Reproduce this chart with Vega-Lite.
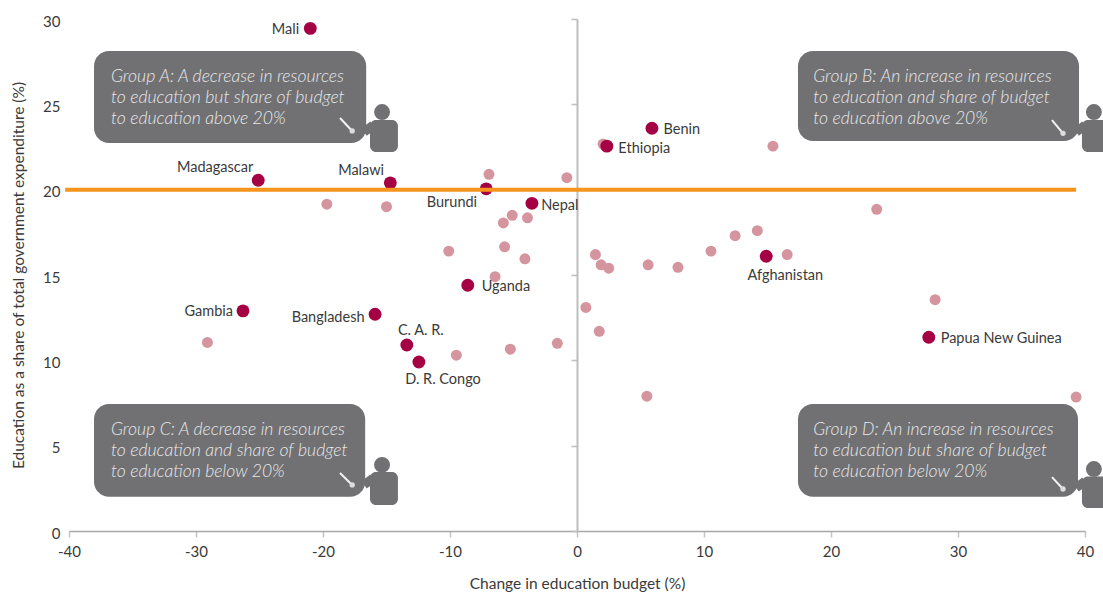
{"$schema":"https://vega.github.io/schema/vega-lite/v6.json","width":1016,"height":512,"autosize":{"type":"none"},"padding":{"left":69,"top":19,"right":18,"bottom":63},"background":"white","config":{"view":{"stroke":null},"text":{"font":"Lato"},"axis":{"labelFont":"Lato","titleFont":"Lato","labelColor":"#3a3a3a","titleColor":"#3a3a3a","labelFontSize":15,"titleFontSize":15.5,"titleFontWeight":"normal","grid":false,"labelFlush":false}},"datasets":{"light":[{"x":2.05,"y":22.67},{"x":15.43,"y":22.55},{"x":-6.93,"y":20.9},{"x":-0.8,"y":20.7},{"x":-19.7,"y":19.15},{"x":-15,"y":19},{"x":-5.1,"y":18.5},{"x":-5.8,"y":18.05},{"x":-3.9,"y":18.35},{"x":-10.1,"y":16.4},{"x":-5.7,"y":16.65},{"x":-4.1,"y":15.95},{"x":-6.45,"y":14.9},{"x":1.45,"y":16.2},{"x":1.9,"y":15.6},{"x":2.5,"y":15.4},{"x":5.6,"y":15.6},{"x":7.95,"y":15.45},{"x":10.55,"y":16.4},{"x":12.45,"y":17.3},{"x":14.2,"y":17.6},{"x":16.55,"y":16.2},{"x":23.6,"y":18.85},{"x":28.2,"y":13.55},{"x":0.7,"y":13.1},{"x":1.75,"y":11.7},{"x":-1.55,"y":11},{"x":-5.25,"y":10.65},{"x":-9.5,"y":10.3},{"x":-29.1,"y":11.05},{"x":5.5,"y":7.9},{"x":39.3,"y":7.85}],"dark":[{"x":-21,"y":29.45,"country":"Mali","lx":-22.95,"ly":29.4},{"x":5.9,"y":23.6,"country":"Benin","lx":8.25,"ly":23.55},{"x":2.35,"y":22.55,"country":"Ethiopia","lx":5.3,"ly":22.45},{"x":-25.1,"y":20.55,"country":"Madagascar","lx":-28.5,"ly":21.3},{"x":-14.7,"y":20.4,"country":"Malawi","lx":-17,"ly":21.15},{"x":-7.15,"y":20.05,"country":"Burundi","lx":-9.85,"ly":19.3},{"x":-3.55,"y":19.2,"country":"Nepal","lx":-1.35,"ly":19.1},{"x":14.9,"y":16.1,"country":"Afghanistan","lx":16.4,"ly":15},{"x":-8.6,"y":14.4,"country":"Uganda","lx":-5.6,"ly":14.35},{"x":-26.3,"y":12.9,"country":"Gambia","lx":-29,"ly":12.88},{"x":-15.9,"y":12.7,"country":"Bangladesh","lx":-19.6,"ly":12.55},{"x":-13.4,"y":10.9,"country":"C. A. R.","lx":-12.3,"ly":11.8},{"x":-12.45,"y":9.9,"country":"D. R. Congo","lx":-10.55,"ly":8.9},{"x":27.7,"y":11.35,"country":"Papua New Guinea","lx":33.4,"ly":11.3}],"bubbles":[{"x":-38.03,"x2":-16.6,"y":22.73,"y2":28.12},{"x":17.4,"x2":39.53,"y":22.85,"y2":28.12},{"x":-38.03,"x2":-16.68,"y":2,"y2":7.44},{"x":17.4,"x2":39.45,"y":2,"y2":7.44}],"bodies":[{"x":-16.3,"x2":-14.1,"y":22.2,"y2":24.08},{"x":39.76,"x2":41.96,"y":22.2,"y2":24.08},{"x":-16.3,"x2":-14.1,"y":1.52,"y2":3.46},{"x":39.76,"x2":41.96,"y":1.35,"y2":3.2}],"heads":[{"x":-15.35,"y":24.55},{"x":40.7,"y":24.55},{"x":-15.35,"y":3.87},{"x":40.7,"y":3.63}],"arms":[{"x":-16.06,"y":23.78,"x2":-16.77,"y2":23.37},{"x":40,"y":23.78,"x2":39.3,"y2":23.37},{"x":-16.06,"y":3.1,"x2":-16.77,"y2":2.7},{"x":40,"y":2.93,"x2":39.3,"y2":2.52}],"pointers":[{"x":-18.66,"y":24.2,"x2":-17.7,"y2":23.44},{"x":37.4,"y":24.08,"x2":38.27,"y2":23.3},{"x":-18.66,"y":3.4,"x2":-17.7,"y2":2.7},{"x":37.4,"y":3.16,"x2":38.27,"y2":2.46}],"notes":[{"x":-36.7,"y":26.65,"t":"Group A: A decrease in resources"},{"x":-36.7,"y":25.42,"t":"to education but share of budget"},{"x":-36.7,"y":24.19,"t":"to education above 20%"},{"x":18.6,"y":26.65,"t":"Group B: An increase in resources"},{"x":18.6,"y":25.42,"t":"to education and share of budget"},{"x":18.6,"y":24.19,"t":"to education above 20%"},{"x":-36.7,"y":5.97,"t":"Group C: A decrease in resources"},{"x":-36.7,"y":4.74,"t":"to education and share of budget"},{"x":-36.7,"y":3.51,"t":"to education below 20%"},{"x":18.6,"y":5.97,"t":"Group D: An increase in resources"},{"x":18.6,"y":4.74,"t":"to education but share of budget"},{"x":18.6,"y":3.51,"t":"to education below 20%"}],"threshold":[{"x":-40.3,"x2":39.3,"y":20}]},"encoding":{"x":{"field":"x","type":"quantitative","scale":{"domain":[-40,40],"nice":false,"zero":false},"axis":{"title":"Change in education budget (%)","values":[-40,-30,-20,-10,0,10,20,30,40],"labelExpr":"toString(datum.value)","domainColor":"#a8a8a8","domainWidth":1.5,"tickColor":"#c4c4c4","tickSize":6,"tickWidth":1.5,"labelPadding":7,"titlePadding":17}},"y":{"field":"y","type":"quantitative","scale":{"domain":[0,30],"nice":false,"zero":false},"axis":null}},"layer":[{"data":{"name":"bubbles"},"mark":{"type":"rect","color":"#717174","cornerRadius":15},"encoding":{"x2":{"field":"x2"},"y":{"field":"y","type":"quantitative","scale":{"domain":[0,30],"nice":false,"zero":false},"axis":{"title":"Education as a share of total government expenditure (%)","values":[0,5,10,15,20,25,30],"domain":false,"ticks":false,"labelPadding":9,"labelOffset":2,"titlePadding":16}},"y2":{"field":"y2"}}},{"data":{"name":"light"},"mark":{"type":"circle","color":"#d5959f","size":120,"opacity":1},"encoding":{"y":{"field":"y","type":"quantitative","scale":{"domain":[0,30],"nice":false,"zero":false},"axis":{"orient":"left","offset":-508,"title":null,"labels":false,"values":[0,5,10,15,20,25,30],"domainColor":"#bdbdbd","domainWidth":2,"tickColor":"#bdbdbd","tickSize":6,"tickWidth":1.5}}}},{"data":{"name":"bodies"},"mark":{"type":"rect","color":"#717174","cornerRadius":6},"encoding":{"x2":{"field":"x2"},"y2":{"field":"y2"}}},{"data":{"name":"heads"},"mark":{"type":"circle","color":"#717174","size":254,"opacity":1}},{"data":{"name":"arms"},"mark":{"type":"rule","color":"#717174","strokeWidth":9},"encoding":{"x2":{"field":"x2"},"y2":{"field":"y2"}}},{"data":{"name":"pointers"},"mark":{"type":"rule","color":"#f2f2f2","strokeWidth":2},"encoding":{"x2":{"field":"x2"},"y2":{"field":"y2"}}},{"data":{"name":"pointers"},"mark":{"type":"circle","color":"#dddddd","size":28,"opacity":1},"encoding":{"x":{"field":"x2","type":"quantitative"},"y":{"field":"y2","type":"quantitative"}}},{"data":{"name":"notes"},"mark":{"type":"text","align":"left","baseline":"middle","font":"Lato","fontStyle":"italic","fontWeight":300,"fontSize":17.6,"dy":1,"color":"#e8e8e8"},"encoding":{"text":{"field":"t"}}},{"data":{"name":"dark"},"mark":{"type":"circle","color":"#a50044","size":165,"opacity":1}},{"data":{"name":"threshold"},"mark":{"type":"rule","color":"#f7941d","strokeWidth":4},"encoding":{"x2":{"field":"x2"}}},{"data":{"name":"dark"},"mark":{"type":"text","align":"center","baseline":"middle","font":"Lato","fontSize":14.5,"dy":1,"color":"#3a3a3a"},"encoding":{"x":{"field":"lx","type":"quantitative"},"y":{"field":"ly","type":"quantitative"},"text":{"field":"country"}}}],"resolve":{"axis":{"y":"independent"}}}
